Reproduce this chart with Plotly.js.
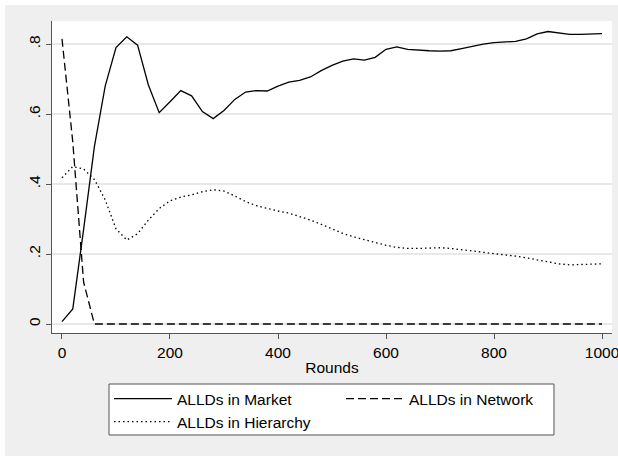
<!DOCTYPE html>
<html>
<head>
<meta charset="utf-8">
<script src="https://cdn.plot.ly/plotly-3.0.1.min.js"></script>
<style>html,body{margin:0;padding:0;background:#fff;}#chart{width:618px;height:456px;}</style>
</head>
<body>
<div id="chart"></div>
<script>
const rounds = [0,20,40,60,80,100,120,140,160,180,200,220,240,260,280,300,320,340,360,380,400,420,440,460,480,500,520,540,560,580,600,620,640,660,680,700,720,740,760,780,800,820,840,860,880,900,920,940,960,980,1000];
const market = [0.007,0.043,0.27,0.507,0.68,0.79,0.821,0.797,0.683,0.604,0.635,0.667,0.652,0.607,0.587,0.61,0.642,0.663,0.667,0.666,0.68,0.691,0.696,0.706,0.724,0.739,0.751,0.758,0.754,0.762,0.785,0.792,0.785,0.782,0.781,0.78,0.781,0.787,0.794,0.8,0.804,0.805,0.808,0.815,0.829,0.836,0.833,0.828,0.828,0.828,0.83];
const network = [0.815,0.52,0.12,0,0,0,0,0,0,0,0,0,0,0,0,0,0,0,0,0,0,0,0,0,0,0,0,0,0,0,0,0,0,0,0,0,0,0,0,0,0,0,0,0,0,0,0,0,0,0,0];
const hierarchy = [0.418,0.45,0.443,0.413,0.355,0.272,0.24,0.258,0.297,0.33,0.352,0.363,0.369,0.378,0.384,0.38,0.366,0.35,0.338,0.33,0.323,0.317,0.308,0.297,0.285,0.271,0.259,0.249,0.241,0.232,0.225,0.219,0.216,0.216,0.218,0.218,0.216,0.213,0.21,0.205,0.201,0.198,0.194,0.189,0.183,0.176,0.172,0.169,0.169,0.171,0.172];
const names = ["ALLDs in Market","ALLDs in Network","ALLDs in Hierarchy"];
const xTicks = [0,200,400,600,800,1000];
const yTicks = [0,0.2,0.4,0.6,0.8];
const yTickText = ["0",".2",".4",".6",".8"];

const traces = [
  {x: rounds, y: market, name: names[0], mode: "lines", line: {color: "#000", width: 1.3}},
  {x: rounds, y: network, name: names[1], mode: "lines", line: {color: "#000", width: 1.3, dash: "8px,4px"}},
  {x: rounds, y: hierarchy, name: names[2], mode: "lines", line: {color: "#000", width: 1.3, dash: "1.5px,3px"}}
];

const layout = {
  width: 618, height: 456,
  margin: {l: 52, r: 6, t: 21, b: 123},
  paper_bgcolor: "#efefef",
  plot_bgcolor: "#ffffff",
  font: {family: "Liberation Sans, Arial, sans-serif", size: 15.5, color: "#000"},
  showlegend: true,
  xaxis: {
    range: [-18.5, 1018.5],
    tickvals: xTicks,
    ticks: "outside", ticklen: 5, tickcolor: "#555", tickwidth: 1,
    showline: true, linecolor: "#555", linewidth: 1,
    showgrid: false, zeroline: false,
    ticklabeloverflow: "allow",
    title: {text: "Rounds", standoff: 2, font: {size: 15.5}}
  },
  yaxis: {
    range: [-0.0257, 0.866],
    tickvals: yTicks, ticktext: yTickText, tickangle: -90,
    ticks: "outside", ticklen: 5, tickcolor: "#555", tickwidth: 1,
    showline: true, linecolor: "#555", linewidth: 1,
    showgrid: true, gridcolor: "#e8e8e8", gridwidth: 1.5, zeroline: false
  },
  legend: {
    orientation: "h",
    x: 0.1018, xanchor: "left",
    y: -0.157, yanchor: "top",
    bgcolor: "rgba(0,0,0,0)", borderwidth: 0,
    itemwidth: 58, entrywidth: 159,
    traceorder: "normal"
  },
  shapes: [
    {type: "rect", xref: "paper", yref: "paper", x0: -0.1, x1: -0.0839, y0: -0.5, y1: 1.2, fillcolor: "#fff", line: {width: 0}},
    {type: "rect", xref: "paper", yref: "paper", x0: -0.1, x1: 1.1, y0: 1.0513, y1: 1.2, fillcolor: "#fff", line: {width: 0}},
    {type: "rect", xref: "paper", yref: "paper", x0: 0.1018, x1: 0.8964, y0: -0.3269, y1: -0.1635, fillcolor: "#fff", line: {width: 1, color: "#555"}, layer: "below"}
  ]
};

Plotly.newPlot("chart", traces, layout, {staticPlot: true, displayModeBar: false});
</script>
</body>
</html>
